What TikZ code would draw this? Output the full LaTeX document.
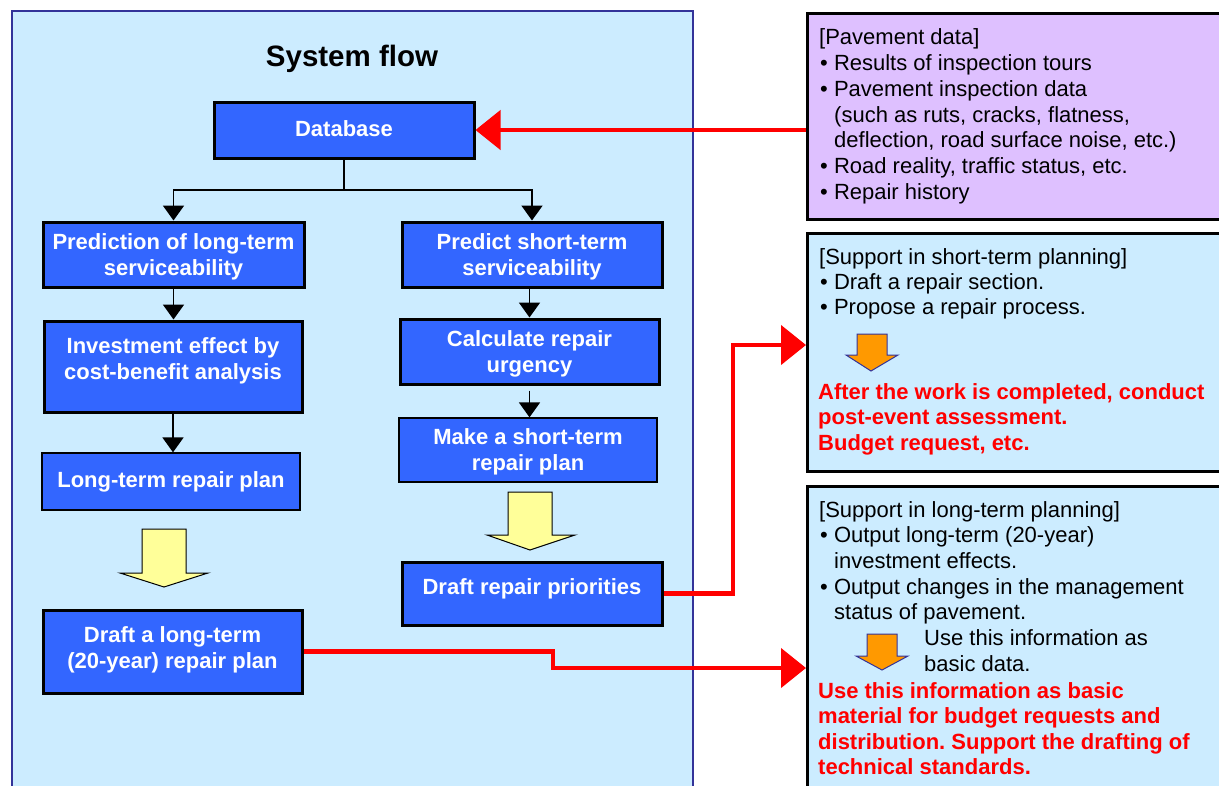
\documentclass[tikz,border=0pt]{standalone}
\usepackage{fontspec}
\setmainfont{Liberation Sans}
\usetikzlibrary{arrows.meta}
\frenchspacing
\definecolor{panelblue}{RGB}{204,236,255}
\definecolor{framecol}{RGB}{51,51,153}
\definecolor{boxblue}{RGB}{51,102,255}
\definecolor{lav}{RGB}{222,192,255}
\definecolor{yel}{RGB}{255,255,153}
\definecolor{orng}{RGB}{255,153,0}
\definecolor{redc}{RGB}{255,0,0}
\begin{document}
\begin{tikzpicture}[x=1pt,y=-1pt,
  bbox/.style={draw=black, line width=3pt, fill=boxblue, text=white,
    font=\fontsize{22}{26}\selectfont\bfseries, align=center, inner sep=0pt},
  thinbox/.style={bbox, line width=1.3pt},
  btxt/.style={text=white, font=\fontsize{22}{26}\selectfont\bfseries, align=center, inner sep=0pt},
  rbox/.style={draw=black, line width=2.5pt, inner sep=0pt, anchor=north west},
  stem/.style={draw=black, line width=1.8pt},
  conn/.style={stem, -{Triangle[width=21pt,length=15pt]}},
  redarr/.style={draw=redc, line width=4.5pt, -{Triangle[width=39pt,length=25pt]}},
  yarrow/.style={draw=black, line width=1pt, fill=yel},
  oarrow/.style={draw=framecol, line width=1pt, fill=orng},
  rtxt/.style={anchor=base west, inner sep=0pt, font=\fontsize{22}{26}\selectfont},
  redtxt/.style={anchor=base west, inner sep=0pt, text=redc, font=\fontsize{22}{26}\selectfont\bfseries}
]
\useasboundingbox (0,0) rectangle (1219,785);
\fill[white] (0,0) rectangle (1219,785);
\clip (0,0) rectangle (1219,785);

% left panel
\draw[framecol, line width=2pt, fill=panelblue] (12,11) rectangle (693,800);
\node[inner sep=0pt, anchor=base, font=\fontsize{29.5}{32}\selectfont\bfseries] (title) at (352,66) {System flow};

% blue boxes (frames)
\node[bbox, minimum width=260, minimum height=56] (db) at (344,130) {};
\node[bbox, minimum width=261, minimum height=65] (pl) at (173.5,254.5) {};
\node[bbox, minimum width=260, minimum height=65] (ps) at (532,254.5) {};
\node[bbox, minimum width=258, minimum height=91] (inv) at (173,366.5) {};
\node[bbox, minimum width=259, minimum height=65] (cu) at (529.5,351.5) {};
\node[thinbox, minimum width=258, minimum height=64] (ms) at (528,450) {};
\node[thinbox, minimum width=258, minimum height=57] (lp) at (171,481.5) {};
\node[bbox, minimum width=260, minimum height=63] (dp) at (532,593.5) {};
\node[bbox, minimum width=259, minimum height=83] (dl) at (172.5,651.5) {};

% blue box texts
\node[btxt] (dbt) at (344,129) {Database};
\node[btxt] (plt) at (173.5,256.5) {Prediction of long-term\\serviceability};
\node[btxt] (pst) at (532,256.5) {Predict short-term\\serviceability};
\node[btxt] (invt) at (173,361) {Investment effect by\\cost-benefit analysis};
\node[btxt] (cut) at (529.5,353.5) {Calculate repair\\urgency};
\node[btxt] (mst) at (528,451.5) {Make a short-term\\repair plan};
\node[btxt] (lpt) at (171,481.5) {Long-term repair plan};
\node[btxt] (dpt) at (532,588.5) {Draft repair priorities};
\node[btxt] (dlt) at (172.5,649.5) {Draft a long-term\\(20-year) repair plan};

% black connectors
\draw[stem] (db.south) -- (344,190) coordinate (br);
\draw[conn] (br) -| (pl.north);
\draw[conn] (br) -| (ps.north);
\draw[conn] (pl.south) -- (pl.south |- inv.north);
\draw[conn] (inv.south) -- (inv.south |- lp.north);
\draw[conn] (cu.north |- ps.south) -- (cu.north);
\draw[conn] ([yshift=-5pt]cu.south) -- (cu.south |- ms.north);

% yellow block arrows
\draw[yarrow] (142,529) -- (186,529) -- (186,573) -- (208,573) -- (164,587) -- (120,573) -- (142,573) -- cycle;
\draw[yarrow] (508,492) -- (552,492) -- (552,535) -- (575,535) -- (530,550) -- (487,535) -- (508,535) -- cycle;

% right boxes
\node[rbox, fill=lav, minimum width=425, minimum height=206] (pav) at (806,12) {};
\node[rbox, fill=panelblue, minimum width=425, minimum height=238] (short) at (806,232) {};
\node[rbox, fill=panelblue, minimum width=425, minimum height=320] (long) at (806,485) {};

% pavement data text
\node[rtxt] (p1) at (819,44) {[Pavement data]};
\node[rtxt] (p2) at (820,70) {• Results of inspection tours};
\node[rtxt] (p3) at (820,96) {• Pavement inspection data};
\node[rtxt] (p4) at (834,122) {(such as ruts, cracks, flatness,};
\node[rtxt] (p5) at (834,147) {deflection, road surface noise, etc.)};
\node[rtxt] (p6) at (820,173) {• Road reality, traffic status, etc.};
\node[rtxt] (p7) at (820,199) {• Repair history};

% short-term text
\node[rtxt] (s1) at (819,264) {[Support in short-term planning]};
\node[rtxt] (s2) at (820,289) {• Draft a repair section.};
\node[rtxt] (s3) at (820,314) {• Propose a repair process.};
\draw[oarrow] (857,334) -- (887,334) -- (887,355) -- (898,355) -- (871,371) -- (846,355) -- (857,355) -- cycle;
\node[redtxt] (s4) at (818,399) {After the work is completed, conduct};
\node[redtxt] (s5) at (818,424.5) {post-event assessment.};
\node[redtxt] (s6) at (818,450) {Budget request, etc.};

% long-term text
\node[rtxt] (l1) at (819,517) {[Support in long-term planning]};
\node[rtxt] (l2) at (820,542) {• Output long-term (20-year)};
\node[rtxt] (l3) at (834,568) {investment effects.};
\node[rtxt] (l4) at (820,594) {• Output changes in the management};
\node[rtxt] (l5) at (834,619) {status of pavement.};
\node[rtxt] (l6) at (924,645) {Use this information as};
\node[rtxt] (l7) at (924,671) {basic data.};
\draw[oarrow] (867,634) -- (897,634) -- (897,656) -- (908,656) -- (882,670) -- (856,656) -- (867,656) -- cycle;
\node[redtxt] (l8) at (818,698) {Use this information as basic};
\node[redtxt] (l9) at (818,723) {material for budget requests and};
\node[redtxt] (l10) at (818,749) {distribution. Support the drafting of};
\node[redtxt] (l11) at (818,774) {technical standards.};

% red connectors
\draw[redarr] (db.east -| pav.west) -- (db.east);
\coordinate (sin) at (806,345);
\coordinate (lin) at (806,668);
\draw[redarr] (dp.east) -- (733,593.5) |- (sin);
\draw[redarr] (dl.east) -- (553,651.5) |- (lin);
\end{tikzpicture}
\end{document}
